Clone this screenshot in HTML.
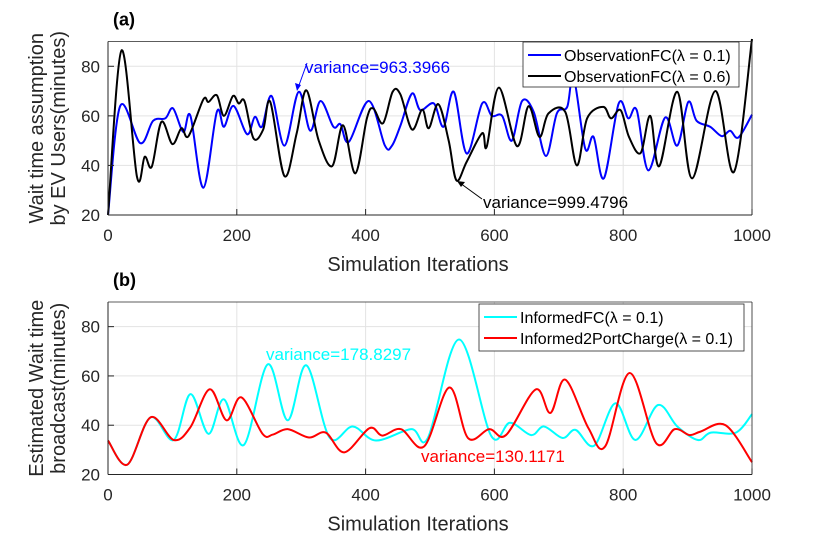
<!DOCTYPE html>
<html><head><meta charset="utf-8">
<style>
body{margin:0;background:#fff;}
svg{display:block;font-family:"Liberation Sans",Arial,sans-serif;}
</style></head>
<body>
<svg id="chart" width="830" height="549" viewBox="0 0 830 549"></svg>
<script>
// ---- data ----
const topIters_blue = [0,19,50,70,89,101,117,128,148,169,180,195,216,228,239,254,274,296,314,330,350,361,374,405,430,441,454,472,485,506,521,537,557,581,596,612,627,643,661,680,697,713,723,741,754,770,793,808,821,839,865,884,901,914,935,953,966,979,1000];
const topVals_blue = [20,64,49,58,59,63,53.5,60,31,61.6,55.6,64,52.6,59.6,55.6,68,48,69.7,54,66,55.6,56.6,49.5,66,48,48,56,69,62.3,65,55.6,69.7,44.8,65,60,60,50,66,61.6,43.8,61,63.6,75.7,46.8,51.5,34.8,65,59,62.3,38,59.3,48,65.6,58,55.6,51.8,54,51.3,60.5];
const topIters_black = [0,21,45,57,68,83,100,114,125,148,156,169,180,194,203,212,226,241,252,274,293,308,327,348,365,384,402,412,427,442,454,472,488,498,513,529,541,557,581,588,607,635,653,670,684,710,728,744,769,781,796,809,827,842,856,884,907,943,972,1000];
const topVals_black = [20,86.4,35.4,43.5,39.5,57.6,48.6,55,51.8,66.6,65.6,68.3,60,68,65,65.9,50.9,54.5,65.6,35.7,53,70.3,50.2,39.7,56.2,36.8,59,63,57,69.7,68.7,54.5,62.5,55,64.7,50,34,41.5,53,47.5,71.4,47.8,63.9,51.5,61,61.6,40,59,63.6,59,62.3,51.5,45,60,39.7,69.7,34.8,70,37.4,91];
const botIters_red = [0,30,66,102,128,158,184,207,240,256,279,312,338,367,406,426,455,491,530,559,592,618,664,687,710,746,772,810,851,880,903,920,959,1000];
const botVals_red = [33.8,24,43.2,34,39.2,54.6,42,51.3,36.5,36.2,38.4,35,37,29,38.8,35.8,38.4,31.4,55.3,34.8,38.4,36,54.5,45,58.5,38.8,31.4,61.2,32.8,38.4,36,37.4,40,25];
const botIters_cyan = [0,30,66,102,128,156,180,211,248,279,308,344,380,416,471,497,545,595,624,657,677,706,726,755,788,819,854,884,916,936,975,1000];
const botVals_cyan = [33.8,24,43.2,34,52.6,36.5,50.5,32,64.7,42,64.3,35,39.5,33.8,38.4,35,74.8,35.7,41,36,39.5,34.8,38.1,31.7,48.9,34,48.2,39.5,34,37,37,44.5];
const xTicks = [0,200,400,600,800,1000];
const yTicks = [20,40,60,80];

const NS="http://www.w3.org/2000/svg";
const svg=document.getElementById('chart');
function mk(tag,attrs,parent){const e=document.createElementNS(NS,tag);for(const k in attrs)e.setAttribute(k,attrs[k]);(parent||svg).appendChild(e);return e;}

function panel(p){
  const L=108,R=752,T=p.top,B=p.bottom;
  const xs=v=>L+(v/1000)*(R-L);
  const ys=v=>B-(v-20)/70*(B-T);
  const g=mk('g',{});
  
  
  xTicks.forEach(t=>{const l=mk('line',{x1:xs(t),x2:xs(t),y1:T,y2:B,stroke:'#e3e3e3','stroke-width':1},g);
    });
  yTicks.forEach(t=>{const l=mk('line',{x1:L,x2:R,y1:ys(t),y2:ys(t),stroke:'#e3e3e3','stroke-width':1},g);
    });
  p.series.forEach(s=>{
    const pts=s.x.map((v,i)=>[xs(v),ys(s.y[i])]);
    let d='M'+pts[0][0]+','+pts[0][1];
    for(let i=0;i<pts.length-1;i++){
      const p0=pts[Math.max(0,i-1)],p1=pts[i],p2=pts[i+1],p3=pts[Math.min(pts.length-1,i+2)];
      const c1x=p1[0]+(p2[0]-p0[0])/6,c1y=p1[1]+(p2[1]-p0[1])/6;
      const c2x=p2[0]-(p3[0]-p1[0])/6,c2y=p2[1]-(p3[1]-p1[1])/6;
      d+=` C${c1x},${c1y} ${c2x},${c2y} ${p2[0]},${p2[1]}`;
    }
    const path=mk('path',{d:d,fill:'none',stroke:s.color,'stroke-width':2,'stroke-linejoin':'round'},g);
    
    
  });
  mk('line',{x1:L,x2:R,y1:T,y2:T,stroke:'#262626','stroke-width':0.8},g);
  mk('line',{x1:R,x2:R,y1:T,y2:B,stroke:'#262626','stroke-width':0.8},g);
  const xa=mk('line',{x1:L,x2:R,y1:B,y2:B,stroke:'#262626','stroke-width':1},g);
  
  const ya=mk('line',{x1:L,x2:L,y1:T,y2:B,stroke:'#262626','stroke-width':1},g);
  
  xTicks.forEach(t=>{
    mk('line',{x1:xs(t),x2:xs(t),y1:B,y2:B-6,stroke:'#262626'},g);
    const tx=mk('text',{x:xs(t),y:B+26,'text-anchor':'middle','font-size':17,fill:'#262626'},g);
    tx.textContent=t;
  });
  yTicks.forEach(t=>{
    mk('line',{x1:L,x2:L+6,y1:ys(t),y2:ys(t),stroke:'#262626'},g);
    const tx=mk('text',{x:L-8,y:ys(t)+6,'text-anchor':'end','font-size':17,fill:'#262626'},g);
    tx.textContent=t;
  });
  const xt=mk('text',{x:(L+R)/2-12,y:B+56,'text-anchor':'middle','font-size':20,fill:'#262626'},g);
  xt.textContent='Simulation Iterations';
  const cy=(T+B)/2;
  p.ytitle.forEach((line,i)=>{
    const t=mk('text',{x:0,y:0,'text-anchor':'middle','font-size':20,fill:'#262626',transform:`translate(${43+i*22},${cy}) rotate(-90)`},g);
    t.textContent=line;
  });
  const lb=mk('text',{x:113,y:T-16,'font-size':18,'font-weight':'bold',fill:'#000'},g);
  lb.textContent=p.label;
  const lg=mk('g',{},g);
  
  mk('rect',{x:p.leg.x,y:p.leg.y,width:p.leg.w,height:p.leg.h,fill:'#fff',stroke:'#262626','stroke-width':0.8},lg);
  p.series.forEach((s,i)=>{
    const yy=p.leg.y+13+i*21;
    const e=mk('g',{},lg);
    
    mk('line',{x1:p.leg.x+5,x2:p.leg.x+38,y1:yy,y2:yy,stroke:s.color,'stroke-width':2},e);
    const t=mk('text',{x:p.leg.x+41,y:yy+6,'font-size':16,fill:'#000'},e);
    t.textContent=s.label;
  });
  return {xs,ys};
}

const a=panel({name:'panel-a',top:41.5,bottom:215,label:'(a)',ytitle:['Wait time assumption','by EV Users(minutes)'],
  leg:{x:523,y:42,w:216,h:45},
  series:[{x:topIters_blue,y:topVals_blue,color:'#0000ff',dn:'series-observation-0.1',label:'ObservationFC(λ = 0.1)'},
          {x:topIters_black,y:topVals_black,color:'#000000',dn:'series-observation-0.6',label:'ObservationFC(λ = 0.6)'}]});
const b=panel({name:'panel-b',top:302,bottom:474.5,label:'(b)',ytitle:['Estimated Wait time','broadcast(minutes)'],
  leg:{x:479,y:304,w:265,h:47},
  series:[{x:botIters_cyan,y:botVals_cyan,color:'#00ffff',dn:'series-informedfc',label:'InformedFC(λ = 0.1)'},
          {x:botIters_red,y:botVals_red,color:'#ff0000',dn:'series-informed2portcharge',label:'Informed2PortCharge(λ = 0.1)'}]});

function note(x,y,txt,color,dn){const t=mk('text',{x:x,y:y,'font-size':17,fill:color});t.textContent=txt;
  return t;}
note(305,73,'variance=963.3966','#0000ff','variance-annotation-blue');
note(483,208,'variance=999.4796','#000','variance-annotation-black');
note(266,360,'variance=178.8297','#00ffff','variance-annotation-cyan');
note(421,462,'variance=130.1171','#ff0000','variance-annotation-red');
mk('line',{x1:307,y1:63,x2:298,y2:88,stroke:'#0000ff','stroke-width':1});
mk('path',{d:'M297,91 L295,83 L301,85 Z',fill:'#0000ff'});
mk('line',{x1:482,y1:199,x2:460,y2:183,stroke:'#000','stroke-width':1});
mk('path',{d:'M457,181 L465,182 L461,187 Z',fill:'#000'});
</script>
</body></html>
